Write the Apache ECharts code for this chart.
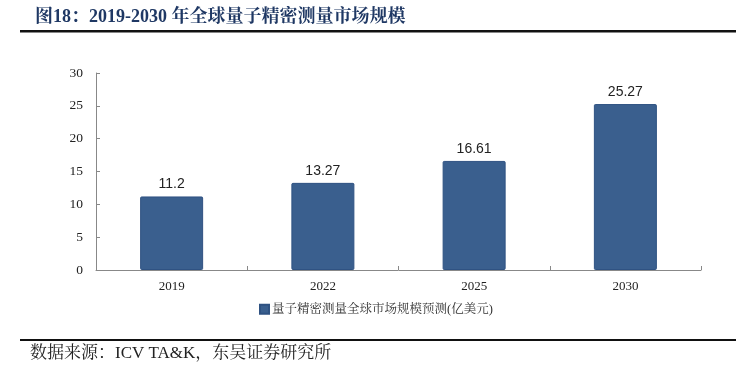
<!DOCTYPE html>
<html><head><meta charset="utf-8">
<script src="https://cdn.jsdelivr.net/npm/echarts@6/dist/echarts.min.js"></script>
<style>html,body{margin:0;padding:0;background:#fff}#c{width:750px;height:370px}</style>
</head><body><div id="c"></div>
<script>
const categories = ['2019', '2022', '2025', '2030'];
const marketSize = [11.2, 13.27, 16.61, 25.27];
const seriesName = '量子精密测量全球市场规模预测(亿美元)';
const titleText = '图18：2019-2030 年全球量子精密测量市场规模';
const sourceText = '数据来源：ICV TA&K，东吴证券研究所';

const serif = '"Liberation Serif","Times New Roman","Noto Serif CJK SC","Noto Sans CJK SC",serif';
const chart = echarts.init(document.getElementById('c'), null, {renderer: 'canvas'});
chart.setOption({
  animation: false,
  backgroundColor: '#fff',
  title: {
    text: titleText, left: 30, top: 3,
    textStyle: {fontFamily: serif, fontSize: 18, fontWeight: 'bold', color: '#1f3864'}
  },
  graphic: [
    {type: 'rect', shape: {x: 20, y: 30, width: 716, height: 2.5}, style: {fill: '#111'}},
    {type: 'rect', shape: {x: 20, y: 339, width: 716, height: 2}, style: {fill: '#111'}},
    {type: 'text', left: 30, top: 345, style: {text: sourceText, font: '17px ' + serif, fill: '#222'}}
  ],
  legend: {
    data: [seriesName], left: 254, top: 298, itemWidth: 9, itemHeight: 9, itemGap: 4,
    icon: 'rect',
    textStyle: {fontFamily: serif, fontSize: 12.5, color: '#333', padding: [0, 0, 0, -2]}
  },
  grid: {left: 96, right: 49, top: 73, bottom: 100, containLabel: false},
  xAxis: {
    type: 'category', data: categories,
    axisLine: {lineStyle: {color: '#888', width: 1}},
    axisTick: {show: true, inside: true, length: 4, alignWithLabel: false, lineStyle: {color: '#888'}},
    axisLabel: {fontFamily: serif, fontSize: 13, color: '#222', margin: 10}
  },
  yAxis: {
    type: 'value', min: 0, max: 30, interval: 5,
    axisLine: {show: true, lineStyle: {color: '#888', width: 1}},
    axisTick: {show: true, inside: true, length: 4, lineStyle: {color: '#888'}},
    splitLine: {show: false},
    axisLabel: {fontFamily: serif, fontSize: 13.5, color: '#222', margin: 13}
  },
  series: [{
    name: seriesName, type: 'bar', data: marketSize, barWidth: 63,
    itemStyle: {color: '#3a5f8e', borderColor: '#2f5282', borderWidth: 1, borderRadius: 1},
    label: {show: true, position: 'top', distance: 5, fontFamily: '"Liberation Sans",Arial,sans-serif', fontSize: 14, color: '#222'}
  }]
});
</script></body></html>
